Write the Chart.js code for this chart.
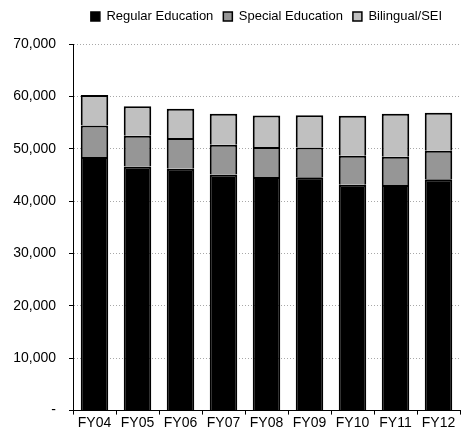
<!DOCTYPE html>
<html>
<head>
<meta charset="utf-8">
<script src="https://cdn.jsdelivr.net/npm/chart.js@4"></script>
<style>
  html, body { margin: 0; padding: 0; background: #fff; }
  #wrap { width: 461px; height: 432px; }
</style>
</head>
<body>
<div id="wrap"><canvas id="chart"></canvas></div>
<script>
// === Data ===
const years = ["FY04", "FY05", "FY06", "FY07", "FY08", "FY09", "FY10", "FY11", "FY12"];
const regularEd = [48400, 46600, 46200, 45060, 44600, 44550, 43130, 43080, 44170];
const specialEd = [6020, 5900, 5850, 5710, 5730, 5700, 5520, 5380, 5430];
const bilingual = [5830, 5630, 5580, 5900, 6020, 6150, 7630, 8210, 7260];

const FONT = "'Liberation Sans', Arial, sans-serif";
const LEGEND_LIFT = 11;

function serie(label, data, color) {
  return {
    label: label,
    data: data,
    backgroundColor: color,
    borderColor: "#000",
    borderWidth: 2,
    borderSkipped: "start",
    barPercentage: 0.64,
    categoryPercentage: 1.0,
  };
}

// legend centered over the plot area (not the whole canvas), sitting higher
const legendOverPlot = {
  id: "legendOverPlot",
  afterLayout(chart) {
    const lg = chart.legend;
    lg.left = chart.chartArea.left;
    lg.right = chart.chartArea.right;
    lg.top -= LEGEND_LIFT;
    lg.bottom -= LEGEND_LIFT;
  },
};

const ctx = document.getElementById("chart").getContext("2d");
new Chart(ctx, {
  type: "bar",
  data: {
    labels: years,
    datasets: [
      serie("Regular Education", regularEd, "#000000"),
      serie("Special Education", specialEd, "#969696"),
      serie("Bilingual/SEI", bilingual, "#c0c0c0"),
    ],
  },
  options: {
    responsive: true,
    maintainAspectRatio: false,
    animation: false,
    layout: { padding: { left: 0, right: 1, top: LEGEND_LIFT, bottom: 0 } },
    plugins: {
      tooltip: { enabled: false },
      legend: {
        position: "top",
        labels: {
          color: "#000",
          font: { family: FONT, size: 13 },
          boxWidth: 9,
          boxHeight: 9,
          padding: 10,
          generateLabels: (chart) => chart.data.datasets.map((ds, i) => ({
            text: ds.label,
            fillStyle: ds.backgroundColor,
            strokeStyle: "#000",
            lineWidth: 1.5,
            datasetIndex: i,
          })),
        },
      },
    },
    scales: {
      x: {
        stacked: true,
        grid: { drawOnChartArea: false, tickLength: 4, tickColor: "#000", offset: true },
        border: { color: "#000", width: 1 },
        ticks: { color: "#000", font: { family: FONT, size: 14 }, padding: 0, maxRotation: 0 },
      },
      y: {
        stacked: true,
        min: 0,
        max: 70000,
        afterFit: (s) => { s.width = 73; },
        grid: { color: "#a8a8a8", tickColor: "#000", tickLength: 4 },
        border: { color: "#000", width: 1, dash: [1, 2] },
        ticks: {
          stepSize: 10000,
          color: "#000",
          font: { family: FONT, size: 14 },
          padding: 13,
          callback: (v) => (v === 0 ? "-" : v.toLocaleString("en-US")),
        },
      },
    },
  },
  plugins: [legendOverPlot],
});
</script>
</body>
</html>
